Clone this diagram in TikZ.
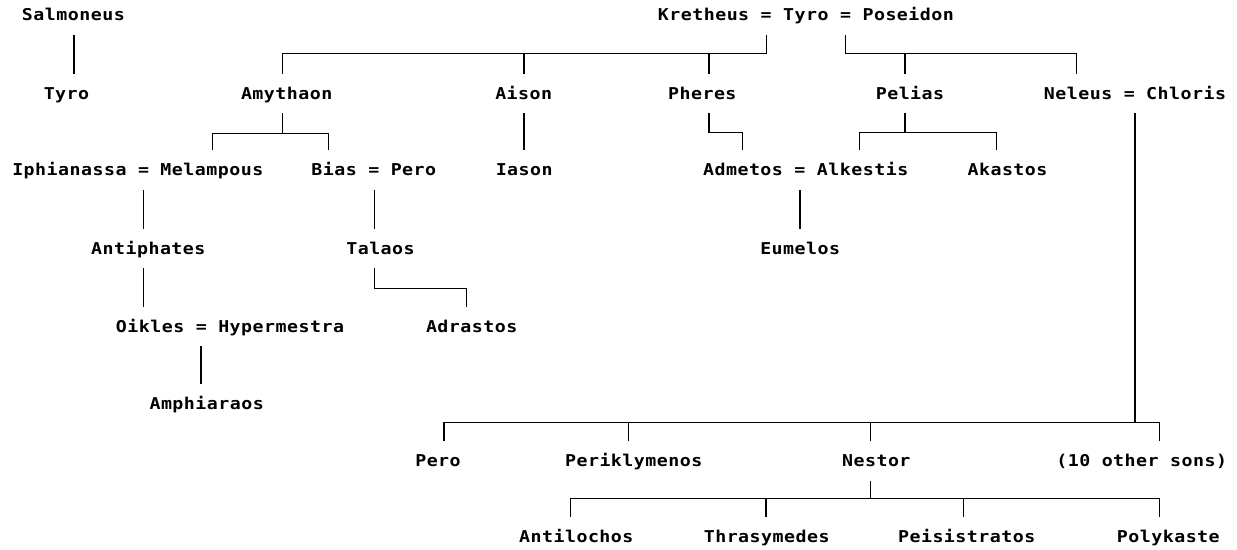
\documentclass[tikz,border=0pt]{standalone}
\usepackage{fontspec}
\newfontfamily\gfont[FakeStretch=1.12,LetterSpace=3,BoldFont={DejaVu Sans Mono Bold}]{DejaVu Sans Mono}
\begin{document}
\begin{tikzpicture}[x=1pt,y=-1pt,
  pn/.style={inner sep=0pt, minimum height=38pt, text height=11.8pt, text depth=0pt,
             font=\gfont\bfseries\fontsize{16.3}{19}\selectfont},
  every path/.style={line width=1.1pt, line cap=butt}]
\fill[white] (0,0) rectangle (1237,549);
\useasboundingbox (0,0) rectangle (1237,549);

% generation 1
\node[pn] (salmoneus) at (73.4,15) {Salmoneus};
\node[pn] (kretheus) at (805.9,15) {Kretheus = Tyro = Poseidon};
% generation 2
\node[pn] (tyro) at (66.5,93.5) {Tyro};
\node[pn] (amythaon) at (286.7,93.5) {Amythaon};
\node[pn] (aison) at (523.7,93.5) {Aison};
\node[pn] (pheres) at (702.3,93.5) {Pheres};
\node[pn] (pelias) at (910,93.5) {Pelias};
\node[pn] (neleus) at (1135,93.5) {Neleus = Chloris};
% generation 3
\node[pn] (iphianassa) at (137.8,170) {Iphianassa = Melampous};
\node[pn] (bias) at (373.8,170) {Bias = Pero};
\node[pn] (iason) at (524.2,170) {Iason};
\node[pn] (admetos) at (805.7,170) {Admetos = Alkestis};
\node[pn] (akastos) at (1007.5,170) {Akastos};
% generation 4
\node[pn] (antiphates) at (148.3,248.3) {Antiphates};
\node[pn] (talaos) at (380.5,248.3) {Talaos};
\node[pn] (eumelos) at (800.2,248.3) {Eumelos};
% generation 5
\node[pn] (oikles) at (230,326.7) {Oikles = Hypermestra};
\node[pn] (adrastos) at (471.7,326.7) {Adrastos};
% generation 6
\node[pn] (amphiaraos) at (206.7,404) {Amphiaraos};
% Neleus' children
\node[pn] (pero) at (438,461) {Pero};
\node[pn] (periklymenos) at (633.7,461) {Periklymenos};
\node[pn] (nestor) at (876.3,461) {Nestor};
\node[pn] (others) at (1141.7,461) {(10 other sons)};
% Nestor's children
\node[pn] (antilochos) at (576.3,536.7) {Antilochos};
\node[pn] (thrasymedes) at (766.7,536.7) {Thrasymedes};
\node[pn] (peisistratos) at (966.7,536.7) {Peisistratos};
\node[pn] (polykaste) at (1168.3,536.7) {Polykaste};

% Salmoneus -> Tyro
\draw ([xshift=.6pt]salmoneus.south) coordinate (s1) -- (s1 |- tyro.north);

% Kretheus = Tyro
\draw ([xshift=-39.5pt]kretheus.south) -- ++(0,19) coordinate (kb) -| ([xshift=-4.4pt]amythaon.north);
\draw ([xshift=.3pt]aison.north) coordinate (a1) -- (a1 |- kb);
\draw ([xshift=6.7pt]pheres.north) coordinate (p1) -- (p1 |- kb);

% Tyro = Poseidon
\draw ([xshift=40pt]kretheus.south) -- ++(0,19) coordinate (pb) -| ([xshift=-58.3pt]neleus.north);
\draw ([xshift=-5pt]pelias.north) coordinate (pe1) -- (pe1 |- pb);

% Amythaon
\draw ([xshift=-4.4pt]amythaon.south) -- ++(0,20.5) coordinate (ab);
\draw ([xshift=74.9pt]iphianassa.north) |- (ab) -| ([xshift=-45.5pt]bias.north);

% Aison -> Iason
\draw ([xshift=.3pt]aison.south) coordinate (a2) -- (a2 |- iason.north);

% Pheres -> Admetos
\draw ([xshift=6.7pt]pheres.south) -- ++(0,19.5) -| ([xshift=-63pt]admetos.north);

% Pelias
\draw ([xshift=-5pt]pelias.south) -- ++(0,19.5) coordinate (plb);
\draw ([xshift=53.6pt]admetos.north) |- (plb) -| ([xshift=-10.8pt]akastos.north);

% Melampous line
\draw ([xshift=5.5pt]iphianassa.south) coordinate (i1) -- (i1 |- antiphates.north);
\draw ([xshift=-5pt]antiphates.south) coordinate (an1) -- (an1 |- oikles.north);
\draw ([xshift=-29pt]oikles.south) coordinate (o1) -- (o1 |- amphiaraos.north);

% Bias line
\draw ([xshift=.5pt]bias.south) coordinate (b1) -- (b1 |- talaos.north);
\draw ([xshift=-6.2pt]talaos.south) -- ++(0,21) -| ([xshift=-5pt]adrastos.north);

% Admetos -> Eumelos
\draw ([xshift=-5.7pt]admetos.south) coordinate (ad1) -- (ad1 |- eumelos.north);

% Neleus = Chloris
\draw ([xshift=6pt]pero.north) -- ++(0,-19.3) coordinate (nb) -| ([xshift=17.6pt]others.north);
\draw (neleus.south) -- (neleus.south |- nb);
\draw ([xshift=-5.4pt]periklymenos.north) coordinate (pk) -- (pk |- nb);
\draw ([xshift=-5.6pt]nestor.north) coordinate (ne) -- (ne |- nb);

% Nestor
\draw ([xshift=-5.6pt]nestor.south) -- ++(0,18.3) coordinate (nsb);
\draw ([xshift=-5.6pt]antilochos.north) |- (nsb) -| ([xshift=-9pt]polykaste.north);
\draw ([xshift=-.7pt]thrasymedes.north) coordinate (th) -- (th |- nsb);
\draw ([xshift=-3.4pt]peisistratos.north) coordinate (pi) -- (pi |- nsb);
\end{tikzpicture}
\end{document}
